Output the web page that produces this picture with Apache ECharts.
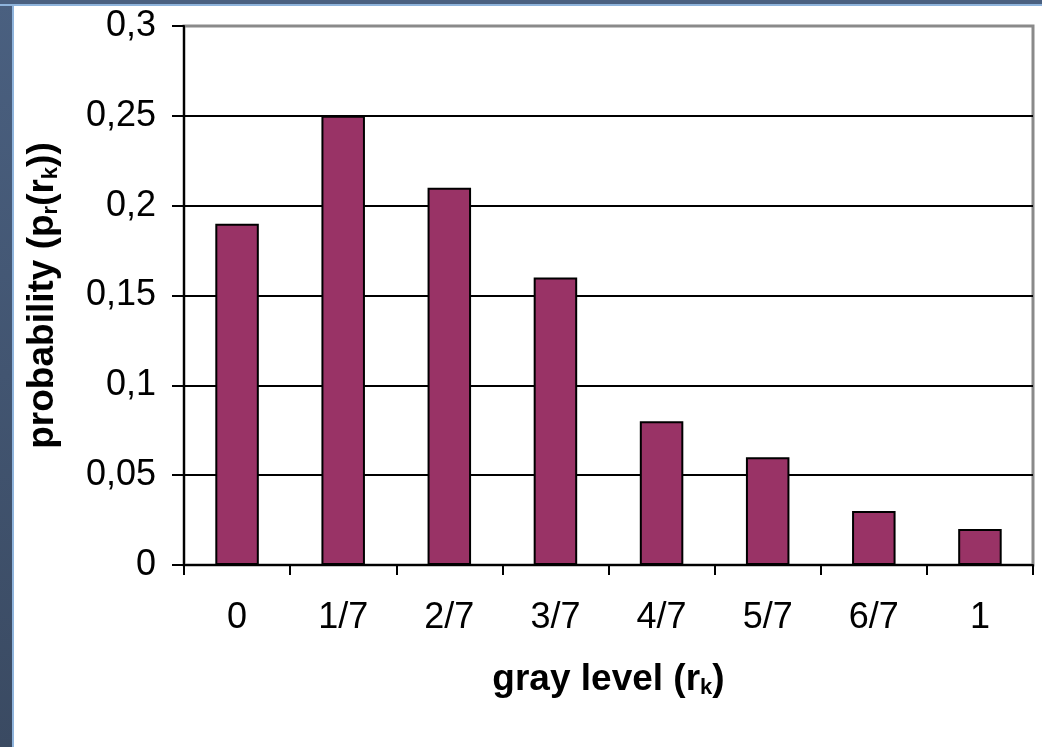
<!DOCTYPE html>
<html>
<head>
<meta charset="utf-8">
<style>
  html, body { margin: 0; padding: 0; background: #ffffff; }
  #frame { position: absolute; left: 0; top: 0; width: 1042px; height: 747px; background: #ffffff; overflow: hidden; }
  #leftbar { position: absolute; left: 0; top: 0; width: 12px; height: 747px; background: linear-gradient(#4a6080, #3a4a62); border-right: 2px solid #8fb4dc; }
  #topbar { position: absolute; left: 0; top: 0; width: 1042px; height: 4px; background: #4a6080; border-bottom: 2px solid #8fb4dc; }
  #chart { position: absolute; left: 0; top: 0; width: 1042px; height: 747px; }
</style>
<script src="https://cdn.jsdelivr.net/npm/echarts@6/dist/echarts.min.js"></script>
</head>
<body>
<div id="frame">
  <div id="leftbar"></div>
  <div id="topbar"></div>
  <div id="chart"></div>
</div>
<script>
const categories = ['0', '1/7', '2/7', '3/7', '4/7', '5/7', '6/7', '1'];
const probability = [0.19, 0.25, 0.21, 0.16, 0.08, 0.06, 0.03, 0.02];
const yMin = 0, yMax = 0.3, yStep = 0.05;

const chart = echarts.init(document.getElementById('chart'), null, { renderer: 'canvas' });
const font = '"Liberation Sans", Arial, sans-serif';
chart.setOption({
  backgroundColor: 'transparent',
  animation: false,
  grid: {
    left: 184, right: 9, top: 26, bottom: 182,
    show: true, borderColor: '#8a8a8a', borderWidth: 3, backgroundColor: 'transparent'
  },
  xAxis: {
    type: 'category',
    data: categories,
    boundaryGap: true,
    axisLine: { show: true, lineStyle: { color: '#000', width: 2 } },
    axisTick: { show: true, length: 10, lineStyle: { color: '#000', width: 2 } },
    axisLabel: { color: '#000', fontFamily: font, fontSize: 36, margin: 35 },
    name: '{b|gray level (r}{s|k}{b|)}',
    nameLocation: 'middle',
    nameGap: 96,
    nameTextStyle: {
      rich: {
        b: { fontFamily: font, fontWeight: 'bold', fontSize: 37, color: '#000' },
        s: { fontFamily: font, fontWeight: 'bold', fontSize: 22, color: '#000', verticalAlign: 'bottom', padding: [16, 0, 0, 0] }
      }
    }
  },
  yAxis: {
    type: 'value',
    min: yMin, max: yMax, interval: yStep,
    axisLine: { show: true, lineStyle: { color: '#000', width: 2 } },
    axisTick: { show: true, length: 12, lineStyle: { color: '#000', width: 2 } },
    axisLabel: {
      color: '#000', fontFamily: font, fontSize: 36, margin: 28,
      formatter: v => String(Math.round(v * 100) / 100).replace('.', ',')
    },
    splitLine: { show: true, lineStyle: { color: ['#000', '#000', '#000', '#000', '#000', '#000', '#8a8a8a'], width: 2 } },
    name: '{b|probability (p}{s|r}{b|(r}{s|k}{b|))}',
    nameLocation: 'middle',
    nameRotate: 90,
    nameGap: 122,
    nameTextStyle: {
      rich: {
        b: { fontFamily: font, fontWeight: 'bold', fontSize: 37, color: '#000' },
        s: { fontFamily: font, fontWeight: 'bold', fontSize: 22, color: '#000', verticalAlign: 'bottom', padding: [16, 0, 0, 0] }
      }
    }
  },
  series: [{
    type: 'bar',
    data: probability,
    barWidth: '41%',
    itemStyle: { color: '#993366', borderColor: '#000', borderWidth: 2 }
  }]
});
</script>
</body>
</html>
